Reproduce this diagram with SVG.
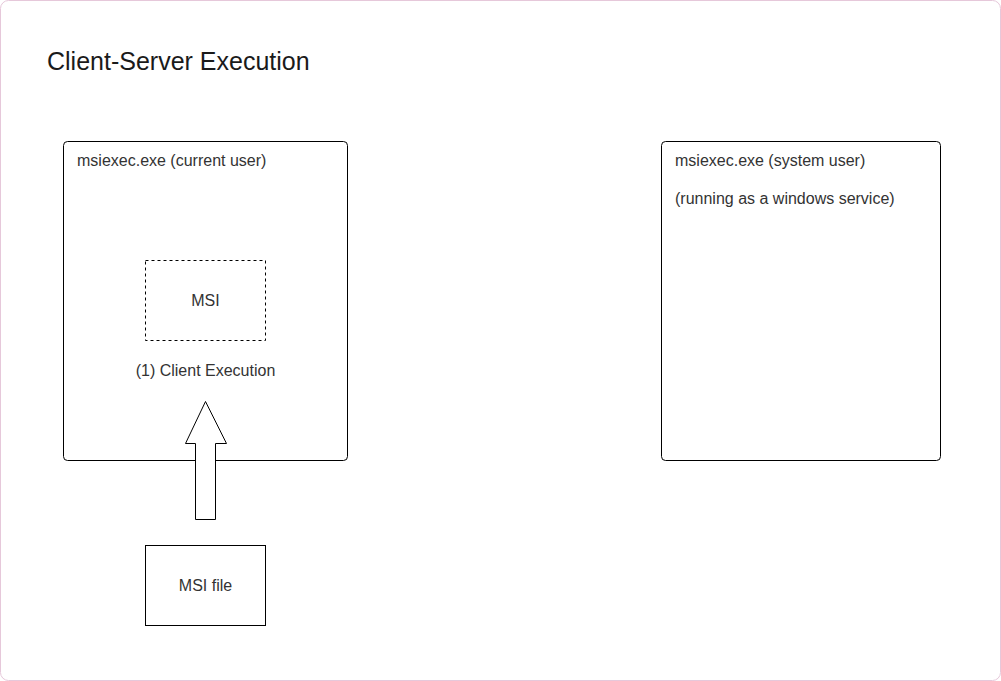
<svg xmlns="http://www.w3.org/2000/svg" width="1001" height="681" viewBox="0 0 1001 681">
<style>
text{font-family:"Liberation Sans",Arial,sans-serif;fill:#333333;font-size:16px}
.box{fill:#ffffff;stroke:#000000;stroke-width:1}
</style>
<rect x="0.5" y="0.5" width="1000" height="680" rx="8" fill="#ffffff" stroke="#e6c8da" stroke-width="1"/>
<text x="47" y="70" style="font-size:25px;fill:#1a1a1a">Client-Server Execution</text>
<g id="client">
<rect class="box" x="63.5" y="141.5" width="284" height="319" rx="4"/>
<text x="77" y="166">msiexec.exe (current user)</text>
</g>
<g id="msi">
<rect x="145.5" y="260.5" width="120" height="80" fill="none" stroke="#000" stroke-dasharray="3,3"/>
<text x="205.5" y="306" text-anchor="middle">MSI</text>
</g>
<g id="client-exec-label">
<text x="205.5" y="376" text-anchor="middle">(1) Client Execution</text>
</g>
<g id="server">
<rect class="box" x="661.5" y="141.5" width="279" height="319" rx="4"/>
<text x="675" y="166">msiexec.exe (system user)</text>
<text x="675" y="204">(running as a windows service)</text>
</g>
<g id="connectors">
<path d="M195.5,519.5 L195.5,443.5 L185.5,443.5 L205.5,401.5 L226.5,443.5 L215.5,443.5 L215.5,519.5 Z" fill="#ffffff" stroke="#000"/>
</g>
<g id="msifile">
<rect class="box" x="145.5" y="545.5" width="120" height="80"/>
<text x="205.5" y="591" text-anchor="middle">MSI file</text>
</g>
</svg>
